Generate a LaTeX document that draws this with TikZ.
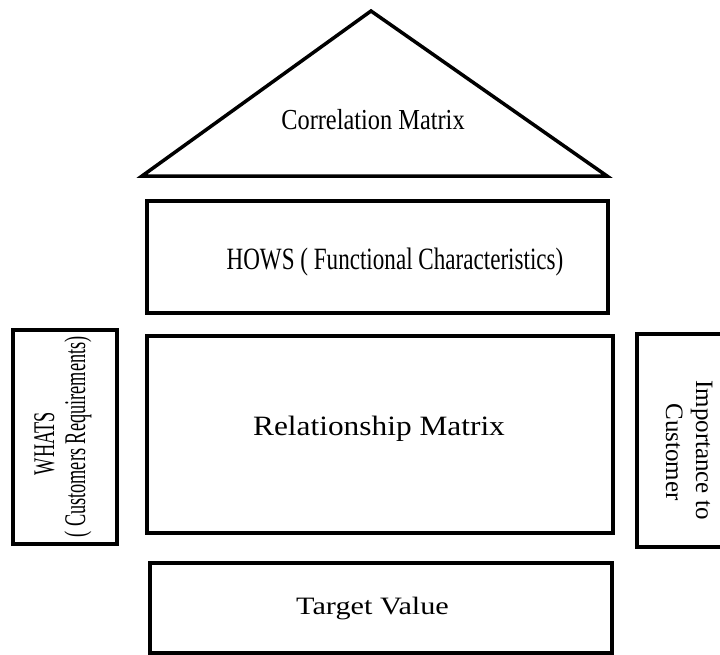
\documentclass[tikz,border=0pt]{standalone}
\usepackage{fontspec}
\usepackage{graphicx}
\setmainfont{Liberation Serif}
\begin{document}
\begin{tikzpicture}[x=1pt,y=-1pt,
  part/.style={draw=black, line width=3.5pt, rectangle, inner sep=0pt, outer sep=0pt},
  label/.style={anchor=base, inner sep=0pt, outer sep=0pt}]
\useasboundingbox (0,0) rectangle (720,654);
\clip (0,0) rectangle (720,654);

% roof: correlation matrix
\coordinate (apex) at (371,11);
\coordinate (roofL) at (142,176);
\coordinate (roofR) at (607,176);
\draw[line width=3.5pt, line join=miter] (roofL) -- (apex) -- (roofR) -- cycle;
\node[label] (corr) at (373,129) {\fontsize{29}{31}\selectfont\scalebox{0.84}[1]{Correlation Matrix}};

% hows
\node[part, minimum width=461pt, minimum height=112pt] (hows) at (377.5,257) {};
\node[label] (howstext) at (395,269) {\fontsize{31}{33}\selectfont\scalebox{0.745}[1]{HOWS ( Functional Characteristics)}};

% relationship matrix
\node[part, minimum width=466pt, minimum height=197pt] (rel) at (380,434.5) {};
\node[label] (reltext) at (379,435) {\fontsize{28}{30}\selectfont\scalebox{1.12}[1]{Relationship Matrix}};

% whats
\node[part, minimum width=104pt, minimum height=214pt] (whats) at (65,437) {};
\node[label, rotate=90] (whatsA) at (54,443.5) {\fontsize{30}{32}\selectfont\scalebox{0.61}[1]{WHATS}};
\node[label, rotate=90] (whatsB) at (85,437) {\fontsize{30}{32}\selectfont\scalebox{0.61}[1]{( Customers Requirements)}};

% importance to customer
\node[part, minimum width=104pt, minimum height=213pt] (imp) at (689,440.5) {};
\node[label, rotate=-90] (impA) at (696,450) {\fontsize{25}{28}\selectfont Importance to};
\node[label, rotate=-90] (impB) at (666,452) {\fontsize{25}{28}\selectfont Customer};

% target value
\node[part, minimum width=462pt, minimum height=90pt] (target) at (381,608) {};
\node[label] (targettext) at (372.5,614) {\fontsize{25}{27}\selectfont\scalebox{1.21}[1]{Target Value}};
\end{tikzpicture}
\end{document}
